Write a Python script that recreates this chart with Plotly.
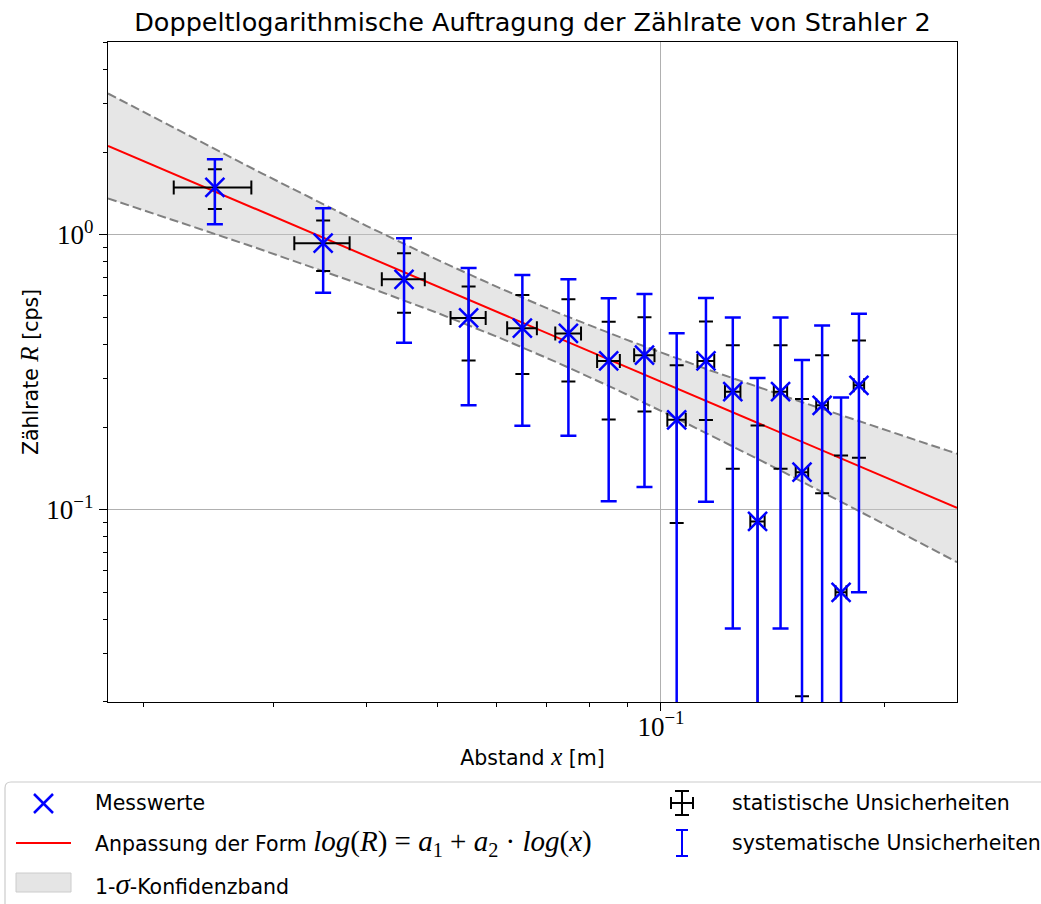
import numpy as np
import plotly.graph_objects as go

# ---------------- data ----------------
abstand_m = [0.025, 0.035, 0.045, 0.055, 0.065, 0.075, 0.085, 0.095, 0.105,
             0.115, 0.125, 0.135, 0.145, 0.155, 0.165, 0.175, 0.185]
zaehlrate = [1.488, 0.933, 0.689, 0.499, 0.458, 0.438, 0.348, 0.365, 0.2125,
             0.348, 0.269, 0.0907, 0.269, 0.137, 0.240, 0.0501, 0.2836]
stat_err_R = [0.246, 0.194, 0.168, 0.150, 0.146, 0.145, 0.135, 0.137, 0.123,
              0.136, 0.128, 0.112, 0.128, 0.116, 0.125, 0.1075, 0.129]
sys_err_R = [0.395, 0.317, 0.284, 0.259, 0.256, 0.252, 0.2405, 0.244, 0.226,
             0.241, 0.232, 0.211, 0.232, 0.214, 0.228, 0.206, 0.2335]
stat_err_x = [0.003] * 17

# fit  log10(R) = a1 + a2*log10(x)  and its parameter covariance
a1, a2 = -1.683, -1.149
var_a1, var_a2, cov_a12 = 0.1346, 0.0900, 0.1067

x_tick_vals = [0.1]
x_tick_text = ["10<sup>\u22121</sup>"]
y_tick_vals = [0.1, 1.0]
y_tick_text = ["10<sup>\u22121</sup>", "10<sup>0</sup>"]
x_minor = [0.02, 0.03, 0.04, 0.05, 0.06, 0.07, 0.08, 0.09, 0.2]
y_minor = [0.02, 0.03, 0.04, 0.05, 0.06, 0.07, 0.08, 0.09,
           0.2, 0.3, 0.4, 0.5, 0.6, 0.7, 0.8, 0.9, 2, 3, 4, 5]

x_range_log = [-1.7463, -0.6005]
y_range_log = [-1.699, 0.7016]

# ---------------- fit curve & band ----------------
u = np.linspace(x_range_log[0], x_range_log[1], 300)
fit_log = a1 + a2 * u
hw = np.sqrt(var_a1 + 2 * cov_a12 * u + var_a2 * u ** 2)
x_fit = 10 ** u
y_fit = 10 ** fit_log
y_lo = 10 ** (fit_log - hw)
y_hi = 10 ** (fit_log + hw)

SANS = "DejaVu Sans"
SERIF = "Liberation Serif"
BLUE = "#0000ff"

fig = go.Figure()

fig.add_trace(go.Scatter(x=x_fit, y=y_lo, mode="lines",
                         line=dict(color="#808080", width=2, dash="9px,4px"),
                         showlegend=False, hoverinfo="skip"))
fig.add_trace(go.Scatter(x=x_fit, y=y_hi, mode="lines", fill="tonexty",
                         fillcolor="rgba(200,200,200,0.45)",
                         line=dict(color="#808080", width=2, dash="9px,4px"),
                         showlegend=False, hoverinfo="skip"))
fig.add_trace(go.Scatter(x=x_fit, y=y_fit, mode="lines",
                         line=dict(color="#ff0000", width=2),
                         showlegend=False, hoverinfo="skip"))
# statistical uncertainties (black)
fig.add_trace(go.Scatter(x=abstand_m, y=zaehlrate, mode="markers",
                         marker=dict(size=1, opacity=0),
                         error_y=dict(type="data", array=stat_err_R, visible=True,
                                      color="black", thickness=2, width=7),
                         error_x=dict(type="data", array=stat_err_x, visible=True,
                                      color="black", thickness=2, width=7),
                         showlegend=False))
# systematic uncertainties (blue)
fig.add_trace(go.Scatter(x=abstand_m, y=zaehlrate, mode="markers",
                         marker=dict(size=1, opacity=0),
                         error_y=dict(type="data", array=sys_err_R, visible=True,
                                      color=BLUE, thickness=2.5, width=8),
                         showlegend=False))
# measured values
fig.add_trace(go.Scatter(x=abstand_m, y=zaehlrate, mode="markers",
                         marker=dict(symbol="x-thin", size=19,
                                     line=dict(color=BLUE, width=2.5)),
                         showlegend=False))

# ---------------- layout ----------------
PL, PR, PT, PB = 108, 957, 42, 702
W, H = 1041, 904

axis_common = dict(type="log", showline=True, linecolor="black", linewidth=1.3,
                   mirror=True, ticks="outside", ticklen=8, tickwidth=1.2,
                   tickcolor="black", showgrid=True, gridcolor="#b0b0b0",
                   gridwidth=1, zeroline=False,
                   tickfont=dict(family=SERIF, size=27, color="black"))

MATH = "font-family:Liberation Serif"
fig.update_layout(
    width=W, height=H,
    margin=dict(l=PL, r=W - PR, t=PT, b=H - PB, autoexpand=False),
    paper_bgcolor="white", plot_bgcolor="white",
    showlegend=False,
    title=dict(text="Doppeltlogarithmische Auftragung der Zählrate von Strahler 2",
               font=dict(family=SANS, size=25.5, color="black"),
               x=(PL + PR) / 2 / W, xanchor="center", xref="container",
               y=1 - 22 / H, yanchor="middle", yref="container"),
    xaxis=dict(axis_common, range=x_range_log, tickvals=x_tick_vals,
               ticktext=x_tick_text, ticklabelstandoff=-8,
               minor=dict(tickmode="array", tickvals=x_minor, ticks="outside",
                          ticklen=4, tickcolor="black", tickwidth=1, showgrid=False),
               title=dict(text=f"Abstand <span style='{MATH};font-size:25px'><i>x</i></span> [m]",
                          font=dict(family=SANS, size=20.5, color="black"),
                          standoff=10)),
    yaxis=dict(axis_common, range=y_range_log, tickvals=y_tick_vals,
               ticktext=y_tick_text,
               minor=dict(tickmode="array", tickvals=y_minor, ticks="outside",
                          ticklen=4, tickcolor="black", tickwidth=1, showgrid=False),
               title=dict(text=f"Zählrate <span style='{MATH};font-size:25px'><i>R</i></span> [cps]",
                          font=dict(family=SANS, size=20.5, color="black"),
                          standoff=2)),
)

# ---------------- legend (drawn in figure pixels) ----------------
def px(x):
    return (x - PL) / (PR - PL)

def py(y):
    return (PB - y) / (PB - PT)

shapes = []
x0, x1, y0, y1, r = 5, 1050, 782, 915, 6
path = (f"M {px(x0 + r)},{py(y0)} L {px(x1 - r)},{py(y0)} "
        f"Q {px(x1)},{py(y0)} {px(x1)},{py(y0 + r)} L {px(x1)},{py(y1 - r)} "
        f"Q {px(x1)},{py(y1)} {px(x1 - r)},{py(y1)} L {px(x0 + r)},{py(y1)} "
        f"Q {px(x0)},{py(y1)} {px(x0)},{py(y1 - r)} L {px(x0)},{py(y0 + r)} "
        f"Q {px(x0)},{py(y0)} {px(x0 + r)},{py(y0)} Z")
shapes.append(dict(type="path", xref="paper", yref="paper", path=path,
                   line=dict(color="#cccccc", width=1.2),
                   fillcolor="rgba(255,255,255,0.8)", layer="above"))

def seg(xa, ya, xb, yb, color, width):
    shapes.append(dict(type="line", xref="paper", yref="paper",
                       x0=px(xa), y0=py(ya), x1=px(xb), y1=py(yb),
                       line=dict(color=color, width=width), layer="above"))

seg(34, 794, 53, 813, BLUE, 2.5)
seg(34, 813, 53, 794, BLUE, 2.5)
seg(16, 843, 71, 843, "#ff0000", 2)
shapes.append(dict(type="rect", xref="paper", yref="paper",
                   x0=px(16), x1=px(71), y0=py(892), y1=py(873),
                   line=dict(color="#cccccc", width=1),
                   fillcolor="#e5e5e5", layer="above"))
cx, cy = 682, 803
seg(cx, cy - 12, cx, cy + 12, "black", 2)
seg(cx - 7, cy - 12, cx + 7, cy - 12, "black", 2)
seg(cx - 7, cy + 12, cx + 7, cy + 12, "black", 2)
seg(cx - 11, cy, cx + 11, cy, "black", 2)
seg(cx - 11, cy - 6, cx - 11, cy + 6, "black", 2)
seg(cx + 11, cy - 6, cx + 11, cy + 6, "black", 2)
cy = 843
seg(cx, cy - 13, cx, cy + 13, BLUE, 2)
seg(cx - 6, cy - 13, cx + 6, cy - 13, BLUE, 2)
seg(cx - 6, cy + 13, cx + 6, cy + 13, BLUE, 2)

fig.update_layout(shapes=shapes)

M = f"{MATH};font-size:29px"
SP = "\u2005"
legend_texts = [
    (93, 803, "Messwerte"),
    (93, 843, f"Anpassung der Form <span style='{M}'><i>log</i>(<i>R</i>){SP}={SP}"
              f"<i>a</i><sub>1</sub>{SP}+{SP}<i>a</i><sub>2</sub>{SP}\u00b7{SP}<i>log</i>(<i>x</i>)</span>"),
    (93, 884, f"1-<span style='{M}'><i>\u03c3</i></span>-Konfidenzband"),
    (730, 803, "statistische Unsicherheiten"),
    (730, 843, "systematische Unsicherheiten"),
]
for tx, ty, t in legend_texts:
    fig.add_annotation(x=px(tx), y=py(ty), xref="paper", yref="paper",
                       text=t, showarrow=False, xanchor="left", yanchor="middle",
                       font=dict(family=SANS, size=20.5, color="black"))

fig.write_html("out.html")
